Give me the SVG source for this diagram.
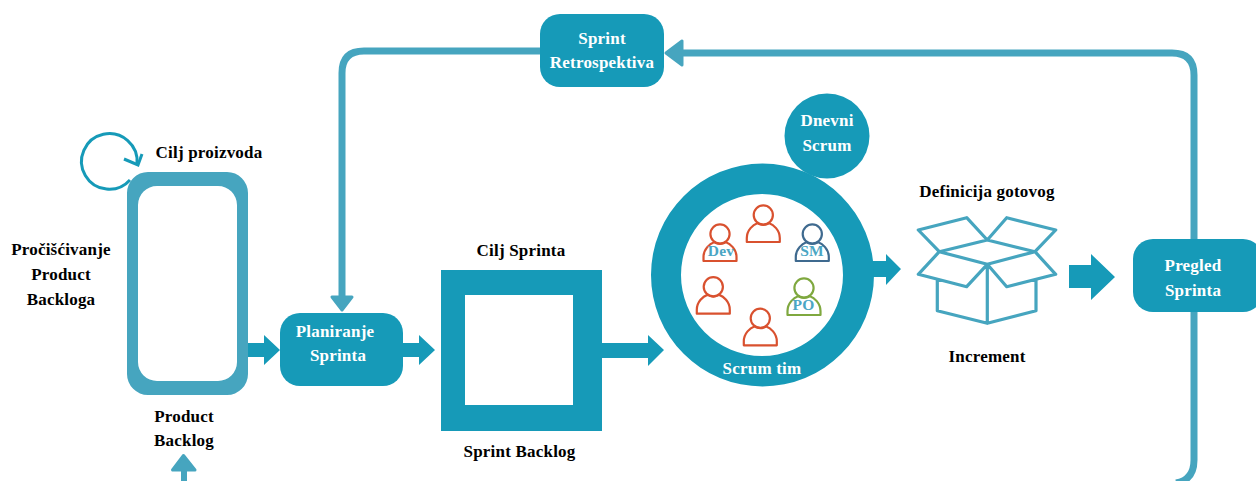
<svg xmlns="http://www.w3.org/2000/svg" xmlns:xlink="http://www.w3.org/1999/xlink" width="1256" height="481" viewBox="0 0 1256 481">
<style>
text{font-family:"Liberation Serif","Times New Roman",serif;font-weight:700;font-size:17px;text-anchor:middle;letter-spacing:.2px}
.w{fill:#fff}.k{fill:#000}
.t{fill:#169ab8}.l{fill:#46a5bf}
.link{fill:none;stroke:#46a5bf;stroke-width:7}
.hd{fill:#46a5bf;stroke:#46a5bf;stroke-width:3;stroke-linejoin:round}
.box{fill:none;stroke:#46a5bf;stroke-width:3.2;stroke-linejoin:round;stroke-linecap:round}
.p{fill:none;stroke-width:2.2;stroke-linejoin:round}
.role{fill:#4ba6c4;font-size:15.500px}
</style>
<defs>
<g id="person"><circle cx="0" cy="0" r="9.600"/><path d="M-16.500 27V23C-16.500 15-10 9.500-6 8.200Q0 11.500 6 8.200C10 9.500 16.500 15 16.500 23V27Z"/></g>
</defs>
<rect width="1256" height="481" fill="#fff"/>
<g id="connectors">
<path class="link" d="M540 51H364Q342 51 342 73V296"/>
<path class="hd" d="M342 310L332 297H352Z"/>
<path class="link" d="M682 53H1172Q1194 53 1194 75V460Q1194 480 1176 483"/>
<path class="hd" d="M666 53L682 41V65Z"/>
<path class="link" d="M184 481V468" style="stroke-width:6"/>
<path class="hd" d="M183.500 455.500L172.500 470H195Z"/>
<path class="t" d="M248 343H264V335L280 350L264 365V357H248Z"/>
<path class="t" d="M403 343H419V335L435 350L419 365V357H403Z"/>
<path class="t" d="M602 343H648V335L664 350L648 366V358H602Z"/>
<path class="t" d="M873 261H886V254L901 269L886 285V277H873Z"/>
<path class="t" d="M1069 265H1091V254L1115 277L1091 300V288H1069Z"/>
<path d="M130 180A27.800 27.800 0 1 1 137 164" fill="none" stroke="#169ab8" stroke-width="3"/>
<path d="M124 159L138 165L142 154" fill="none" stroke="#169ab8" stroke-width="3"/>
</g>
<g id="cilj-proizvoda"><text class="k" x="209" y="158">Cilj proizvoda</text></g>
<g id="product-backlog">
<path fill-rule="evenodd" class="l" d="M148 172H227A21 21 0 0 1 248 193V374A21 21 0 0 1 227 395H148A21 21 0 0 1 127 374V193A21 21 0 0 1 148 172ZM157 186A19 19 0 0 0 138 205V362A19 19 0 0 0 157 381H218A19 19 0 0 0 237 362V205A19 19 0 0 0 218 186Z"/>
<text class="k" x="184" y="422">Product</text>
<text class="k" x="184" y="446">Backlog</text>
</g>
<g id="prociscivanje">
<text class="k" x="61" y="255">Pročišćivanje</text>
<text class="k" x="61" y="280">Product</text>
<text class="k" x="61" y="305">Backloga</text>
</g>
<g id="planiranje-sprinta">
<rect class="t" x="280" y="313" width="123" height="73" rx="20"/>
<text class="w" x="335" y="337">Planiranje</text>
<text class="w" x="338" y="361">Sprinta</text>
</g>
<g id="sprint-backlog">
<path fill-rule="evenodd" class="t" d="M441 270H602V431H441ZM465 295V405H573V295Z"/>
<text class="k" x="521" y="256">Cilj Sprinta</text>
<text class="k" x="519.500" y="457">Sprint Backlog</text>
</g>
<g id="sprint-retrospektiva">
<rect class="t" x="540" y="14" width="124" height="73" rx="20"/>
<text class="w" x="602" y="44">Sprint</text>
<text class="w" x="602" y="68">Retrospektiva</text>
</g>
<g id="scrum-tim">
<path fill-rule="evenodd" class="t" d="M651 275A111.500 111.500 0 1 0 874 275A111.500 111.500 0 1 0 651 275ZM681 275A81 81 0 1 1 843 275A81 81 0 1 1 681 275Z"/>
<use xlink:href="#person" href="#person" class="p" stroke="#d9512f" x="763.300" y="215"/>
<use xlink:href="#person" href="#person" class="p" stroke="#d9512f" x="720" y="234"/>
<use xlink:href="#person" href="#person" class="p" stroke="#3f6a8f" x="812.300" y="234"/>
<use xlink:href="#person" href="#person" class="p" stroke="#d9512f" x="713.300" y="286.700"/>
<use xlink:href="#person" href="#person" class="p" stroke="#d9512f" x="760.300" y="318.300"/>
<use xlink:href="#person" href="#person" class="p" stroke="#7fa83f" x="804" y="288"/>
<text class="role" x="721" y="256">Dev</text>
<text class="role" x="812" y="256">SM</text>
<text class="role" x="803.500" y="310">PO</text>
<text class="w" x="762" y="374">Scrum tim</text>
</g>
<g id="dnevni-scrum">
<circle class="t" cx="827" cy="136" r="42.500"/>
<text class="w" x="827" y="126">Dnevni</text>
<text class="w" x="827" y="151">Scrum</text>
</g>
<g id="increment">
<text class="k" x="987" y="197">Definicija gotovog</text>
<path class="box" d="M918.300 230L966.700 217.700L987.300 240L939.300 251.700ZM1055.700 230L1006.700 217.700L987.300 240L1035 251.700ZM939.300 251.700L987.300 240L1035 251.700L987.300 264.300ZM939.300 251.700L918.300 274.300L966.700 286.700L987.300 264.300ZM1035 251.700L1055.700 274.300L1006.700 286.700L987.300 264.300ZM937.300 280V310.700L987.300 323.300L1036 310.700V280M987.300 264.300V323.300"/>
<text class="k" x="987" y="362">Increment</text>
</g>
<g id="pregled-sprinta">
<rect class="t" x="1133" y="239" width="130" height="73" rx="20"/>
<text class="w" x="1193" y="271">Pregled</text>
<text class="w" x="1193" y="296">Sprinta</text>
</g>
</svg>
